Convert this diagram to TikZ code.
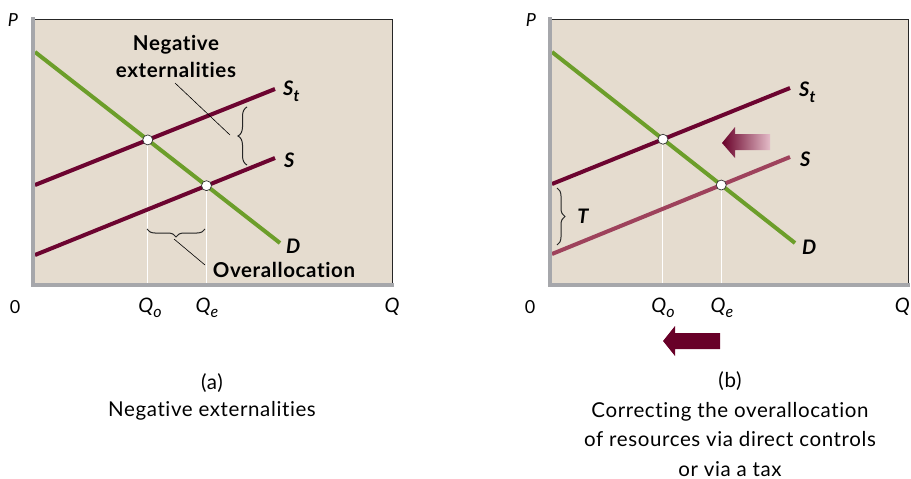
\documentclass[tikz,border=0pt]{standalone}
\usepackage{fontspec}
\setmainfont{Lato}[LetterSpace=3,Ligatures=NoCommon]
\usetikzlibrary{decorations.pathreplacing}
\definecolor{bg}{RGB}{229,220,207}
\definecolor{maroon}{RGB}{108,4,48}
\definecolor{lmaroon}{RGB}{158,66,92}
\definecolor{dgreen}{RGB}{108,158,42}
\definecolor{axgrey}{RGB}{166,167,171}
\definecolor{arrowdark}{RGB}{104,0,40}
\definecolor{arrowlight}{RGB}{228,188,200}
\newcommand{\lowsub}[1]{\raisebox{-0.28em}{\fontsize{16}{16}\selectfont #1}}
\begin{document}
\begin{tikzpicture}[x=1pt,y=-1pt,
  panel/.style={fill=bg},
  border/.style={draw=black!85,line width=0.8pt},
  axis/.style={draw=axgrey,line width=4pt},
  curve/.style={line width=4pt,line cap=butt},
  guide/.style={draw=white,line width=1pt},
  eqpt/.style={circle,draw=black!80,fill=white,line width=0.7pt,inner sep=0pt,minimum size=10pt},
  curvelbl/.style={anchor=west,inner sep=0pt,font=\fontsize{20}{20}\selectfont\bfseries\itshape},
  axlbl/.style={inner sep=0pt,font=\fontsize{20}{20}\selectfont\itshape},
  zerolbl/.style={inner sep=0pt,font=\fontsize{18}{18}\selectfont},
  boldlbl/.style={inner sep=0pt,align=center,font=\fontsize{20.5}{27}\selectfont\bfseries},
  caption/.style={inner sep=0pt,align=center,font=\fontsize{20.5}{27}\selectfont},
  leader/.style={draw=black,line width=0.6pt},
  bracedec/.style={draw=black!85,line width=1pt,decorate,decoration={brace,amplitude=9pt}}
]
\useasboundingbox (0,0) rectangle (911,479);

% ---------- Panel (a) ----------
\fill[panel] (33,19) rectangle (392,285);
\draw[border] (33,19) -- (392,19) -- (392,285);

\coordinate (aD1) at (35,52);   \coordinate (aD2) at (280,243);
\coordinate (aT1) at (35,185);  \coordinate (aT2) at (275,89);
\coordinate (aS1) at (35,255);  \coordinate (aS2) at (275,158);
\coordinate (aQo) at (intersection of aD1--aD2 and aT1--aT2);
\coordinate (aQe) at (intersection of aD1--aD2 and aS1--aS2);
\coordinate (aQoB) at (aQo |- 0,285);
\coordinate (aQeB) at (aQe |- 0,285);

\draw[guide] (aQo) -- (aQoB);
\draw[guide] (aQe) -- (aQeB);
\draw[curve,maroon] (aT1) -- (aT2);
\draw[curve,maroon] (aS1) -- (aS2);
\draw[curve,dgreen] (aD1) -- (aD2);
\node[eqpt] (aEo) at (aQo) {};
\node[eqpt] (aEe) at (aQe) {};

\draw[axis] (33,17) -- (33,285) -- (394,285);

\node[curvelbl] (aStl) at (283,91) {S\lowsub{t}};
\node[curvelbl] (aSl) at (284,160) {S};
\node[curvelbl] (aDl) at (286,246) {D};

\node[boldlbl] (aneg) at (176,56) {Negative\\externalities};
\coordinate (aneg1) at (175,83);
\coordinate (aneg2) at (230,135);
\draw[leader] (aneg1) -- (aneg2);
\coordinate (abr1) at (247,165);
\coordinate (abr2) at (247,107);
\draw[bracedec] (abr1) -- (abr2);

\coordinate (aob1) at (205,229);
\coordinate (aob2) at (147,229);
\draw[bracedec,decoration={brace,amplitude=8pt}] (aob1) -- (aob2);
\node[boldlbl] (aover) at (284,270) {Overallocation};
\coordinate (aol1) at (174,239);
\coordinate (aol2) at (205,265);
\draw[leader] (aol1) -- (aol2);

\node[axlbl,font=\fontsize{18}{18}\selectfont\itshape] (aP) at (13,20) {P};
\node[zerolbl] (a0) at (15,307) {0};
\node[axlbl] (aQol) at (150,308) {Q\lowsub{o}};
\node[axlbl] (aQel) at (207,308) {Q\lowsub{e}};
\node[axlbl] (aQl) at (392,307) {Q};

\node[caption] (acap) at (212,397) {(a)\\Negative externalities};

% ---------- Panel (b) ----------
\fill[panel] (550,19) rectangle (908,285);
\draw[border] (550,19) -- (908,19) -- (908,285);

\coordinate (bD1) at (552,52);   \coordinate (bD2) at (795,243);
\coordinate (bT1) at (552,184);  \coordinate (bT2) at (790,88);
\coordinate (bS1) at (552,254);  \coordinate (bS2) at (790,157);
\coordinate (bQo) at (intersection of bD1--bD2 and bT1--bT2);
\coordinate (bQe) at (intersection of bD1--bD2 and bS1--bS2);
\coordinate (bQoB) at (bQo |- 0,285);
\coordinate (bQeB) at (bQe |- 0,285);

\draw[guide] (bQo) -- (bQoB);
\draw[guide] (bQe) -- (bQeB);
\draw[curve,maroon] (bT1) -- (bT2);
\draw[curve,lmaroon] (bS1) -- (bS2);
\draw[curve,dgreen] (bD1) -- (bD2);
\node[eqpt] (bEo) at (bQo) {};
\node[eqpt] (bEe) at (bQe) {};

\draw[axis] (550,17) -- (550,285) -- (910,285);

\node[curvelbl] (bStl) at (799,92) {S\lowsub{t}};
\node[curvelbl] (bSl) at (800,159) {S};
\node[curvelbl] (bDl) at (802,247) {D};

\coordinate (bbr1) at (557,188);
\coordinate (bbr2) at (557,245);
\draw[bracedec,decoration={brace,amplitude=8pt}] (bbr1) -- (bbr2);
\node[curvelbl,anchor=center] (bT) at (583,216) {T};

% gradient arrow
\shade[left color=arrowdark,right color=arrowlight]
  (722,143) -- (735,127) -- (735,134) -- (770,134) -- (770,150) -- (735,150) -- (735,158) -- cycle;
% solid arrow below axis
\fill[arrowdark] (663,341) -- (675,326) -- (675,333) -- (720,333) -- (720,349) -- (675,349) -- (675,356) -- cycle;

\node[axlbl,font=\fontsize{18}{18}\selectfont\itshape] (bP) at (531,20) {P};
\node[zerolbl] (b0) at (530,307) {0};
\node[axlbl] (bQol) at (663,308) {Q\lowsub{o}};
\node[axlbl] (bQel) at (722,308) {Q\lowsub{e}};
\node[axlbl,anchor=east] (bQl) at (910,307) {Q};

\node[caption,font=\fontsize{20.5}{29.5}\selectfont] (bcap) at (730,424) {(b)\\Correcting the overallocation\\of resources via direct controls\\or via a tax};
\end{tikzpicture}
\end{document}
